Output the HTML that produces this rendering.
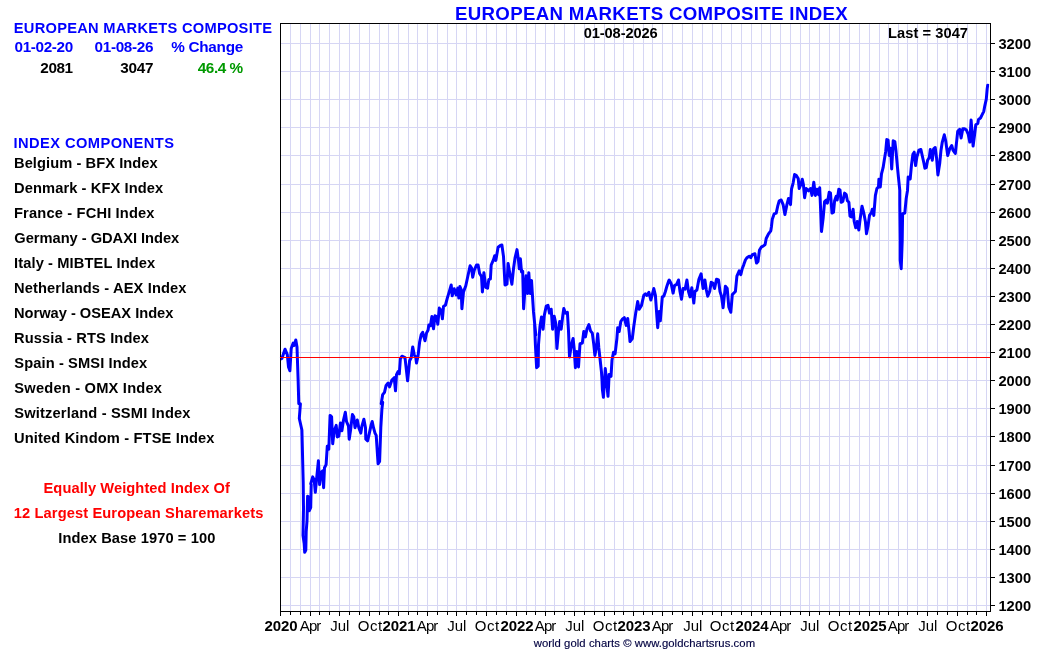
<!DOCTYPE html>
<html lang="en"><head><meta charset="utf-8"><title>European Markets Composite Index</title>
<style>html,body{margin:0;padding:0;background:#fff;}svg{display:block}text{white-space:pre}</style>
</head><body>
<svg width="1050" height="650" viewBox="0 0 1050 650" font-family='"Liberation Sans", sans-serif'>
<rect width="1050" height="650" fill="#fff"/>
<path d="M290.5 24V611M300.5 24V611M310.5 24V611M319.5 24V611M329.5 24V611M339.5 24V611M349.5 24V611M359.5 24V611M369.5 24V611M379.5 24V611M388.5 24V611M398.5 24V611M408.5 24V611M417.5 24V611M427.5 24V611M437.5 24V611M447.5 24V611M456.5 24V611M466.5 24V611M476.5 24V611M486.5 24V611M496.5 24V611M506.5 24V611M516.5 24V611M526.5 24V611M535.5 24V611M545.5 24V611M554.5 24V611M564.5 24V611M574.5 24V611M584.5 24V611M594.5 24V611M604.5 24V611M614.5 24V611M623.5 24V611M633.5 24V611M643.5 24V611M652.5 24V611M662.5 24V611M672.5 24V611M682.5 24V611M692.5 24V611M702.5 24V611M712.5 24V611M721.5 24V611M731.5 24V611M741.5 24V611M751.5 24V611M761.5 24V611M770.5 24V611M780.5 24V611M790.5 24V611M800.5 24V611M809.5 24V611M819.5 24V611M829.5 24V611M839.5 24V611M849.5 24V611M859.5 24V611M869.5 24V611M879.5 24V611M888.5 24V611M898.5 24V611M907.5 24V611M917.5 24V611M927.5 24V611M937.5 24V611M947.5 24V611M957.5 24V611M967.5 24V611M976.5 24V611M986.5 24V611M281 605.5H990M281 577.5H990M281 549.5H990M281 521.5H990M281 493.5H990M281 465.5H990M281 436.5H990M281 408.5H990M281 380.5H990M281 352.5H990M281 324.5H990M281 296.5H990M281 268.5H990M281 240.5H990M281 212.5H990M281 184.5H990M281 155.5H990M281 127.5H990M281 99.5H990M281 71.5H990M281 43.5H990" stroke="#d6d6f4" stroke-width="1" fill="none" shape-rendering="crispEdges"/>
<path d="M280.4 359.2 L281.9 358.5 L285.0 349.2 L287.3 354.6 L288.5 366.9 L289.9 370.8 L291.2 348.5 L293.2 343.1 L294.2 345.4 L295.8 340.0 L297.0 346.9 L298.1 379.2 L298.8 403.8 L300.4 403.8 L299.3 418.5 L301.9 430.0 L303.2 482.3 L303.5 508.5 L303.0 535.4 L304.2 543.8 L304.7 552.3 L305.8 550.0 L306.2 531.5 L307.0 520.8 L307.6 496.2 L308.5 496.9 L309.2 510.8 L310.7 507.7 L311.2 484.6 L310.7 483.8 L312.7 476.9 L314.2 480.0 L315.3 492.3 L316.8 476.9 L318.4 460.8 L319.6 484.6 L321.2 472.3 L322.7 470.8 L323.6 487.7 L324.5 467.7 L326.1 464.6 L327.3 446.2 L328.8 449.2 L330.1 415.4 L331.6 416.9 L332.7 443.8 L334.2 430.8 L336.2 425.4 L337.3 436.9 L338.8 436.2 L340.4 423.1 L341.9 430.8 L343.5 420.0 L345.3 412.3 L346.5 421.5 L348.5 426.2 L349.2 439.2 L350.7 429.2 L352.4 414.6 L353.8 416.9 L355.0 427.7 L357.3 420.0 L358.8 427.7 L360.8 433.1 L361.9 426.2 L363.9 419.2 L365.5 427.7 L365.8 439.2 L367.6 440.8 L369.2 433.8 L371.2 424.6 L372.2 421.5 L373.5 427.7 L375.0 433.1 L376.2 435.4 L378.1 463.8 L379.6 461.5 L380.8 427.7 L381.9 409.2 L382.7 402.3 L381.2 403.8 L382.7 394.6 L384.5 392.3 L386.1 385.4 L388.1 383.1 L389.6 386.9 L391.9 380.0 L394.2 377.7 L395.5 390.8 L396.5 374.6 L398.1 371.5 L399.3 373.8 L400.4 358.5 L401.9 356.2 L405.0 357.7 L407.6 380.8 L409.6 360.8 L411.2 357.7 L412.7 346.9 L414.2 354.6 L415.8 357.7 L416.5 363.1 L418.1 355.4 L419.6 342.3 L421.2 334.6 L422.7 332.3 L425.0 340.8 L426.5 333.1 L428.1 330.0 L428.8 325.0 L430.4 325.8 L431.9 316.5 L433.5 328.8 L435.0 315.8 L436.5 316.5 L437.8 324.2 L439.3 308.1 L441.2 310.4 L442.4 318.8 L443.5 306.5 L445.5 305.0 L447.3 298.1 L449.2 291.9 L451.2 285.0 L452.2 295.8 L454.2 288.8 L456.2 295.0 L457.8 288.1 L458.8 298.1 L459.9 286.5 L461.2 289.6 L461.9 308.8 L463.5 291.9 L465.8 285.8 L468.1 275.0 L470.1 265.8 L471.6 268.1 L472.7 277.3 L474.2 270.4 L476.5 265.0 L478.1 265.0 L479.6 273.5 L481.5 276.5 L482.4 291.9 L483.9 272.7 L485.8 287.3 L487.6 288.1 L488.8 279.6 L490.4 278.8 L491.2 265.0 L493.5 259.6 L494.7 255.8 L495.8 260.4 L498.1 247.3 L500.4 245.5 L501.9 245.0 L503.5 256.5 L505.0 285.0 L507.0 284.2 L508.1 263.5 L510.1 275.0 L511.9 284.2 L513.5 268.8 L515.0 258.1 L517.0 249.6 L518.4 259.6 L519.3 268.8 L520.4 258.8 L521.5 271.9 L522.7 271.2 L523.6 308.8 L525.0 288.8 L526.1 275.8 L527.6 293.5 L528.8 272.7 L530.1 293.5 L531.5 280.4 L533.5 311.9 L535.8 335.0 L534.6 324.6 L535.4 344.6 L536.6 367.7 L538.2 366.2 L538.5 344.6 L540.0 326.2 L541.5 316.9 L543.1 329.2 L544.3 315.4 L546.2 306.2 L548.0 305.4 L549.5 313.1 L551.2 309.2 L552.6 329.2 L554.2 316.2 L555.7 323.1 L556.9 348.5 L558.5 330.8 L559.7 321.5 L561.2 329.2 L562.8 315.4 L563.8 308.5 L565.4 313.1 L567.4 312.3 L568.5 330.8 L569.5 356.9 L571.5 344.6 L573.1 338.5 L574.2 349.2 L575.4 367.7 L576.9 351.5 L578.5 366.9 L580.0 343.8 L582.3 343.1 L583.8 331.5 L585.4 336.9 L586.9 329.2 L588.9 324.6 L590.5 330.8 L592.3 333.1 L593.8 344.6 L594.9 355.4 L596.5 346.2 L597.7 333.8 L598.8 347.7 L600.0 358.5 L601.5 372.3 L602.0 380.1 L602.4 389.6 L603.4 397.3 L604.4 382.9 L605.3 368.6 L606.7 382.9 L608.0 396.3 L608.6 385.8 L609.1 374.4 L611.0 376.3 L612.0 360.0 L613.5 352.3 L615.1 353.8 L616.9 338.5 L617.7 327.7 L619.2 331.5 L620.8 321.5 L622.3 319.2 L624.3 317.7 L626.2 325.4 L627.7 318.5 L629.2 332.3 L630.0 341.5 L632.3 338.5 L633.8 326.2 L635.7 313.1 L637.7 301.5 L639.2 309.2 L641.5 305.4 L643.8 295.4 L645.4 293.8 L646.9 295.4 L648.9 292.3 L650.8 300.0 L652.3 294.6 L653.8 288.5 L655.4 295.4 L656.9 316.9 L657.7 327.7 L659.2 311.5 L660.3 320.8 L662.3 296.9 L663.8 296.2 L665.4 291.5 L666.9 286.2 L668.5 281.5 L669.2 280.0 L671.2 283.8 L673.1 293.1 L674.6 285.4 L676.5 284.6 L678.5 280.0 L680.0 291.5 L681.5 299.2 L683.1 288.5 L685.1 289.2 L686.9 280.0 L688.5 291.5 L690.0 296.9 L691.8 287.7 L693.8 303.1 L694.9 291.5 L696.9 290.0 L698.9 279.2 L701.1 273.8 L703.1 288.5 L704.9 280.0 L706.2 289.2 L707.7 296.2 L709.7 291.5 L711.2 282.3 L712.8 283.1 L714.6 288.5 L716.5 279.2 L718.5 280.0 L720.0 291.5 L721.5 296.2 L723.1 307.7 L725.4 286.2 L727.2 288.5 L728.8 306.9 L730.8 312.3 L732.3 294.6 L735.4 291.5 L736.9 276.2 L739.2 270.8 L740.8 274.6 L742.3 268.5 L743.8 264.6 L745.4 260.0 L746.9 257.7 L749.2 256.2 L750.8 257.7 L752.3 254.6 L754.9 253.8 L756.5 263.1 L758.0 261.5 L759.5 250.0 L761.5 246.9 L763.1 246.2 L765.1 244.6 L766.2 238.5 L768.5 233.8 L770.8 230.8 L771.5 226.2 L772.3 219.2 L774.2 213.8 L776.2 213.1 L777.7 206.2 L779.2 200.8 L781.2 200.0 L783.1 204.6 L784.9 214.6 L786.9 204.6 L788.5 198.5 L790.5 204.6 L791.5 189.2 L793.1 183.1 L794.6 174.6 L796.2 175.4 L798.2 178.5 L799.2 188.5 L800.8 184.6 L802.3 179.2 L803.4 184.6 L804.6 197.7 L806.2 188.5 L808.5 190.8 L810.5 188.5 L812.0 195.4 L813.8 182.3 L815.4 195.4 L816.9 189.2 L818.5 194.6 L819.7 187.7 L820.8 213.8 L821.5 231.5 L823.1 218.5 L824.6 201.5 L826.2 200.0 L827.4 203.1 L829.2 192.3 L830.5 193.1 L832.0 213.1 L833.5 212.3 L834.6 200.8 L836.2 196.2 L837.2 200.0 L838.8 189.2 L840.0 190.0 L841.2 202.3 L842.8 201.5 L844.6 193.1 L846.2 194.6 L847.4 200.8 L848.9 202.3 L850.0 216.2 L851.5 216.9 L853.1 209.2 L854.2 221.5 L855.7 227.7 L857.2 221.5 L858.8 230.0 L860.0 220.0 L862.0 206.2 L863.8 213.1 L865.4 221.5 L866.5 233.8 L868.0 226.2 L869.5 215.4 L871.5 212.3 L872.3 209.2 L873.8 215.4 L875.4 195.4 L876.9 188.5 L878.5 186.9 L878.9 179.2 L880.3 186.9 L881.5 173.8 L883.1 167.7 L884.3 160.0 L885.7 151.5 L886.8 139.5 L888.1 140.1 L889.2 155.5 L890.5 148.2 L891.7 168.9 L893.2 140.8 L894.8 141.5 L895.9 150.2 L897.5 167.6 L898.4 176.9 L899.8 190.3 L899.8 205.1 L900.2 238.5 L900.2 260.0 L901.2 268.7 L902.2 241.2 L902.6 213.8 L904.8 213.1 L906.2 198.4 L907.5 190.4 L908.2 176.9 L910.2 178.9 L911.5 164.9 L912.9 154.2 L914.2 152.2 L915.6 165.6 L916.9 156.9 L918.9 150.2 L920.9 149.5 L922.2 155.5 L924.0 163.5 L924.9 168.2 L926.3 167.6 L927.6 160.2 L929.3 157.5 L930.3 149.5 L932.3 160.2 L933.6 148.8 L935.2 147.5 L936.6 158.2 L937.9 174.9 L939.7 163.5 L941.0 150.2 L942.3 142.1 L944.3 134.8 L945.7 140.8 L947.7 155.5 L949.7 148.8 L951.7 145.5 L953.0 150.2 L955.3 153.5 L956.7 140.8 L957.7 131.4 L959.7 129.4 L961.1 138.1 L962.8 128.7 L964.4 128.7 L966.4 130.1 L968.2 134.1 L969.8 142.1 L971.1 120.0 L973.1 146.1 L974.5 135.4 L975.8 124.7 L977.8 123.4 L978.5 119.4 L980.5 118.0 L981.8 115.4 L983.8 111.3 L984.8 105.8 L986.3 99.1 L987.2 88.6 L987.7 85.3 L988.9 85.6" stroke="#0000ff" stroke-width="3" fill="none" stroke-linejoin="round" stroke-linecap="butt"/>
<rect x="280.5" y="23.5" width="710" height="588" fill="none" stroke="#000" stroke-width="1" shape-rendering="crispEdges"/>
<path d="M280 357.5H990" stroke="#ff0000" stroke-width="1" shape-rendering="crispEdges"/>
<path d="M991 605.5h4M991 577.5h4M991 549.5h4M991 521.5h4M991 493.5h4M991 465.5h4M991 436.5h4M991 408.5h4M991 380.5h4M991 352.5h4M991 324.5h4M991 296.5h4M991 268.5h4M991 240.5h4M991 212.5h4M991 184.5h4M991 155.5h4M991 127.5h4M991 99.5h4M991 71.5h4M991 43.5h4M280.5 612v4M290.5 612v3M300.5 612v3M310.5 612v4M319.5 612v3M329.5 612v3M339.5 612v4M349.5 612v3M359.5 612v3M369.5 612v4M379.5 612v3M388.5 612v3M398.5 612v4M408.5 612v3M417.5 612v3M427.5 612v4M437.5 612v3M447.5 612v3M456.5 612v4M466.5 612v3M476.5 612v3M486.5 612v4M496.5 612v3M506.5 612v3M516.5 612v4M526.5 612v3M535.5 612v3M545.5 612v4M554.5 612v3M564.5 612v3M574.5 612v4M584.5 612v3M594.5 612v3M604.5 612v4M614.5 612v3M623.5 612v3M633.5 612v4M643.5 612v3M652.5 612v3M662.5 612v4M672.5 612v3M682.5 612v3M692.5 612v4M702.5 612v3M712.5 612v3M721.5 612v4M731.5 612v3M741.5 612v3M751.5 612v4M761.5 612v3M770.5 612v3M780.5 612v4M790.5 612v3M800.5 612v3M809.5 612v4M819.5 612v3M829.5 612v3M839.5 612v4M849.5 612v3M859.5 612v3M869.5 612v4M879.5 612v3M888.5 612v3M898.5 612v4M907.5 612v3M917.5 612v3M927.5 612v4M937.5 612v3M947.5 612v3M957.5 612v4M967.5 612v3M976.5 612v3M986.5 612v4" stroke="#000" stroke-width="1" fill="none" shape-rendering="crispEdges"/>
<g font-size="14.67" font-weight="bold" fill="#000">
<text x="998.48" y="610.7" textLength="32.58" lengthAdjust="spacing">1200</text>
<text x="998.48" y="582.7" textLength="32.58" lengthAdjust="spacing">1300</text>
<text x="998.48" y="554.7" textLength="32.58" lengthAdjust="spacing">1400</text>
<text x="998.48" y="526.7" textLength="32.58" lengthAdjust="spacing">1500</text>
<text x="998.48" y="498.7" textLength="32.58" lengthAdjust="spacing">1600</text>
<text x="998.48" y="470.7" textLength="32.58" lengthAdjust="spacing">1700</text>
<text x="998.48" y="441.7" textLength="32.58" lengthAdjust="spacing">1800</text>
<text x="998.48" y="413.7" textLength="32.58" lengthAdjust="spacing">1900</text>
<text x="998.48" y="385.7" textLength="32.58" lengthAdjust="spacing">2000</text>
<text x="998.48" y="357.7" textLength="32.58" lengthAdjust="spacing">2100</text>
<text x="998.48" y="329.7" textLength="32.58" lengthAdjust="spacing">2200</text>
<text x="998.48" y="301.7" textLength="32.58" lengthAdjust="spacing">2300</text>
<text x="998.48" y="273.7" textLength="32.58" lengthAdjust="spacing">2400</text>
<text x="998.48" y="245.7" textLength="32.58" lengthAdjust="spacing">2500</text>
<text x="998.48" y="217.7" textLength="32.58" lengthAdjust="spacing">2600</text>
<text x="998.48" y="189.7" textLength="32.58" lengthAdjust="spacing">2700</text>
<text x="998.48" y="160.7" textLength="32.58" lengthAdjust="spacing">2800</text>
<text x="998.48" y="132.7" textLength="32.58" lengthAdjust="spacing">2900</text>
<text x="998.48" y="104.7" textLength="32.58" lengthAdjust="spacing">3000</text>
<text x="998.48" y="76.7" textLength="32.58" lengthAdjust="spacing">3100</text>
<text x="998.48" y="48.7" textLength="32.58" lengthAdjust="spacing">3200</text>
</g>
<g font-size="15" fill="#000">
<text x="264.57" y="631" font-weight="bold" textLength="33.12" lengthAdjust="spacing">2020</text>
<text x="299.83" y="631" textLength="21.51" lengthAdjust="spacing">Apr</text>
<text x="330.37" y="631" textLength="18.95" lengthAdjust="spacing">Jul</text>
<text x="357.87" y="631" textLength="24.37" lengthAdjust="spacing">Oct</text>
<text x="382.57" y="631" font-weight="bold" textLength="33.12" lengthAdjust="spacing">2021</text>
<text x="416.83" y="631" textLength="21.51" lengthAdjust="spacing">Apr</text>
<text x="447.37" y="631" textLength="18.95" lengthAdjust="spacing">Jul</text>
<text x="474.87" y="631" textLength="24.37" lengthAdjust="spacing">Oct</text>
<text x="500.57" y="631" font-weight="bold" textLength="33.12" lengthAdjust="spacing">2022</text>
<text x="534.83" y="631" textLength="21.51" lengthAdjust="spacing">Apr</text>
<text x="565.37" y="631" textLength="18.95" lengthAdjust="spacing">Jul</text>
<text x="592.87" y="631" textLength="24.37" lengthAdjust="spacing">Oct</text>
<text x="617.57" y="631" font-weight="bold" textLength="33.12" lengthAdjust="spacing">2023</text>
<text x="651.83" y="631" textLength="21.51" lengthAdjust="spacing">Apr</text>
<text x="683.37" y="631" textLength="18.95" lengthAdjust="spacing">Jul</text>
<text x="709.87" y="631" textLength="24.37" lengthAdjust="spacing">Oct</text>
<text x="735.57" y="631" font-weight="bold" textLength="33.12" lengthAdjust="spacing">2024</text>
<text x="769.83" y="631" textLength="21.51" lengthAdjust="spacing">Apr</text>
<text x="800.37" y="631" textLength="18.95" lengthAdjust="spacing">Jul</text>
<text x="827.87" y="631" textLength="24.37" lengthAdjust="spacing">Oct</text>
<text x="853.57" y="631" font-weight="bold" textLength="33.12" lengthAdjust="spacing">2025</text>
<text x="887.83" y="631" textLength="21.51" lengthAdjust="spacing">Apr</text>
<text x="918.37" y="631" textLength="18.95" lengthAdjust="spacing">Jul</text>
<text x="945.87" y="631" textLength="24.37" lengthAdjust="spacing">Oct</text>
<text x="970.57" y="631" font-weight="bold" textLength="33.12" lengthAdjust="spacing">2026</text>
</g>
<text x="454.96" y="20.0" font-size="18.67" font-weight="bold" textLength="392.76" lengthAdjust="spacing" fill="#0000ff">EUROPEAN MARKETS COMPOSITE INDEX</text>
<text x="583.75" y="37.6" font-size="14.67" font-weight="bold" textLength="73.94" lengthAdjust="spacing" fill="#000">01-08-2026</text>
<text x="888.00" y="38.2" font-size="14.67" font-weight="bold" textLength="80.02" lengthAdjust="spacing" fill="#000">Last = 3047</text>
<text x="533.67" y="646.6" font-size="11.3" font-weight="normal" textLength="221.39" lengthAdjust="spacing" fill="#000040" stroke="#000040" stroke-width="0.15">world gold charts © www.goldchartsrus.com</text>
<text x="13.79" y="32.7" font-size="14.67" font-weight="bold" textLength="258.18" lengthAdjust="spacing" fill="#0000ff">EUROPEAN MARKETS COMPOSITE</text>
<text x="14.52" y="52.4" font-size="15.3" font-weight="bold" textLength="58.72" lengthAdjust="spacing" fill="#0000ff">01-02-20</text>
<text x="94.52" y="52.4" font-size="15.3" font-weight="bold" textLength="58.95" lengthAdjust="spacing" fill="#0000ff">01-08-26</text>
<text x="171.16" y="52.4" font-size="15.3" font-weight="bold" textLength="72.07" lengthAdjust="spacing" fill="#0000ff">% Change</text>
<text x="40.36" y="73.1" font-size="15.3" font-weight="bold" textLength="32.62" lengthAdjust="spacing" fill="#000">2081</text>
<text x="120.27" y="73.1" font-size="15.3" font-weight="bold" textLength="33.24" lengthAdjust="spacing" fill="#000">3047</text>
<text x="197.77" y="73.1" font-size="15.3" font-weight="bold" textLength="45.36" lengthAdjust="spacing" fill="#009900">46.4 %</text>
<text x="13.49" y="148.1" font-size="14.67" font-weight="bold" textLength="160.42" lengthAdjust="spacing" fill="#0000ff">INDEX COMPONENTS</text>
<text x="14.00" y="167.9" font-size="14.67" font-weight="bold" textLength="143.68" lengthAdjust="spacing" fill="#000">Belgium - BFX Index</text>
<text x="14.00" y="192.8" font-size="14.67" font-weight="bold" textLength="149.22" lengthAdjust="spacing" fill="#000">Denmark - KFX Index</text>
<text x="14.00" y="217.8" font-size="14.67" font-weight="bold" textLength="140.50" lengthAdjust="spacing" fill="#000">France - FCHI Index</text>
<text x="14.33" y="242.8" font-size="14.67" font-weight="bold" textLength="164.89" lengthAdjust="spacing" fill="#000">Germany - GDAXI Index</text>
<text x="14.00" y="267.8" font-size="14.67" font-weight="bold" textLength="141.22" lengthAdjust="spacing" fill="#000">Italy - MIBTEL Index</text>
<text x="14.00" y="292.8" font-size="14.67" font-weight="bold" textLength="172.50" lengthAdjust="spacing" fill="#000">Netherlands - AEX Index</text>
<text x="14.00" y="317.8" font-size="14.67" font-weight="bold" textLength="159.36" lengthAdjust="spacing" fill="#000">Norway - OSEAX Index</text>
<text x="14.00" y="342.8" font-size="14.67" font-weight="bold" textLength="134.95" lengthAdjust="spacing" fill="#000">Russia - RTS Index</text>
<text x="14.32" y="367.8" font-size="14.67" font-weight="bold" textLength="132.90" lengthAdjust="spacing" fill="#000">Spain - SMSI Index</text>
<text x="14.32" y="392.8" font-size="14.67" font-weight="bold" textLength="147.65" lengthAdjust="spacing" fill="#000">Sweden - OMX Index</text>
<text x="14.32" y="417.8" font-size="14.67" font-weight="bold" textLength="176.18" lengthAdjust="spacing" fill="#000">Switzerland - SSMI Index</text>
<text x="14.00" y="442.8" font-size="14.67" font-weight="bold" textLength="200.50" lengthAdjust="spacing" fill="#000">United Kindom - FTSE Index</text>
<text x="43.52" y="492.8" font-size="14.67" font-weight="bold" textLength="186.41" lengthAdjust="spacing" fill="#ff0000">Equally Weighted Index Of</text>
<text x="13.80" y="518.0" font-size="14.67" font-weight="bold" textLength="249.51" lengthAdjust="spacing" fill="#ff0000">12 Largest European Sharemarkets</text>
<text x="58.22" y="542.8" font-size="14.67" font-weight="bold" textLength="157.10" lengthAdjust="spacing" fill="#000">Index Base 1970 = 100</text>
</svg>
</body></html>
